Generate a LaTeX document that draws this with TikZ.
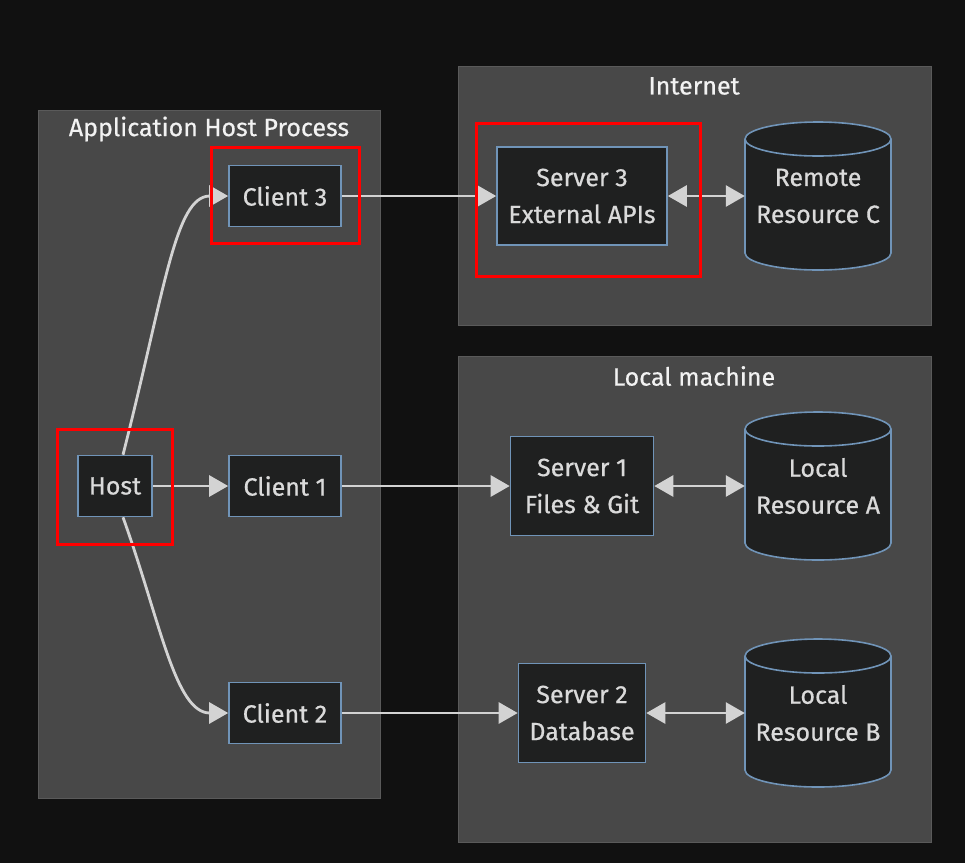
\documentclass[tikz,border=0pt]{standalone}
\usepackage{fontspec}
\setmainfont[FakeBold=0.6,BoldFont={Fira Sans}]{Fira Sans}
\usetikzlibrary{arrows.meta}
\definecolor{bg}{HTML}{111111}
\definecolor{clusterfill}{HTML}{484848}
\definecolor{clusterline}{HTML}{5A5A5A}
\definecolor{nodefill}{HTML}{1F2020}
\definecolor{nodeline}{HTML}{7094B8}
\definecolor{txt}{HTML}{DADADA}
\definecolor{titletxt}{HTML}{F2F2F2}
\definecolor{edgecol}{HTML}{D3D3D3}
\definecolor{hilite}{HTML}{FF0000}
\begin{document}
\begin{tikzpicture}[x=1pt,y=-1pt,
  clusterbox/.style={fill=clusterfill,draw=clusterline,line width=1pt},
  title/.style={text=titletxt,font=\fontsize{25}{30}\selectfont,inner sep=0pt},
  box/.style={draw=nodeline,fill=nodefill,line width=1.6pt,text=txt,align=center,
    inner sep=0pt,font=\fontsize{25}{37}\selectfont},
  cylnode/.style={draw=none,text=txt,align=center,inner sep=0pt,
    minimum width=146pt,minimum height=148pt,font=\fontsize{25}{37}\selectfont},
  cyl/.style={draw=nodeline,fill=nodefill,line width=1.6pt},
  arr/.style={draw=edgecol,line width=2.8pt,-{Triangle[length=19pt,width=21pt]}},
  dbl/.style={draw=edgecol,line width=2.8pt,{Triangle[length=19pt,width=21pt]}-{Triangle[length=19pt,width=21pt]}},
  redbox/.style={draw=hilite,line width=3pt}
]
\fill[bg] (0,0) rectangle (965,863);
\useasboundingbox (0,0) rectangle (965,863);

% clusters
\draw[clusterbox] (38,110) rectangle (380,798);
\node[title] (tapp) at (209,129) {Application Host Process};
\draw[clusterbox] (458,66) rectangle (931,325);
\node[title] (tnet) at (694,86) {Internet};
\draw[clusterbox] (458,356) rectangle (931,842);
\node[title] (tloc) at (694,376) {Local machine};

% nodes
\node[box,minimum width=74pt,minimum height=61pt] (host) at (115,486) {Host};
\node[box,minimum width=112pt,minimum height=61pt] (c3) at (285,196) {Client 3};
\node[box,minimum width=112pt,minimum height=61pt] (c1) at (285,486) {Client 1};
\node[box,minimum width=112pt,minimum height=61pt] (c2) at (285,713) {Client 2};
\node[box,minimum width=170pt,minimum height=98pt] (s3) at (582,196) {Server 3\\External APIs};
\node[box,minimum width=143pt,minimum height=99pt] (s1) at (582,486) {Server 1\\Files \& Git};
\node[box,minimum width=127pt,minimum height=99pt] (s2) at (582,713) {Server 2\\Database};

% cylinders
\foreach \n/\y in {rc/196,ra/486,rb/713}{
  \path (818,\y) coordinate (\n-c);
  \path[cyl] ([shift={(-73pt,57pt)}]\n-c) -- ([shift={(-73pt,-57pt)}]\n-c)
     arc[start angle=180,end angle=360,x radius=73pt,y radius=17pt]
     -- ([shift={(73pt,57pt)}]\n-c)
     arc[start angle=0,end angle=180,x radius=73pt,y radius=17pt] -- cycle;
  \draw[cyl,fill=none] ([shift={(-73pt,57pt)}]\n-c)
     arc[start angle=180,end angle=360,x radius=73pt,y radius=17pt];
}
\node[cylnode] (rc) at (rc-c) {Remote\\Resource C};
\node[cylnode] (ra) at (ra-c) {Local\\Resource A};
\node[cylnode] (rb) at (rb-c) {Local\\Resource B};

% edges
\draw[arr] ([xshift=8pt]host.north) .. controls (165,290) and (175,196) .. (c3.west);
\draw[arr] ([xshift=8pt]host.south) .. controls (160,620) and (175,713) .. (c2.west);
\draw[arr] (host.east) -- (c1.west);
\draw[arr] (c3.east) -- (s3.west);
\draw[arr] (c1.east) -- (s1.west);
\draw[arr] (c2.east) -- (s2.west);
\draw[dbl] (s3.east) -- (rc.west);
\draw[dbl] (s1.east) -- (ra.west);
\draw[dbl] (s2.east) -- (rb.west);

% highlight boxes
\draw[redbox] (211,147) rectangle (359,243);
\draw[redbox] (476,123) rectangle (700,276);
\draw[redbox] (57,429) rectangle (172,544);
\end{tikzpicture}
\end{document}
